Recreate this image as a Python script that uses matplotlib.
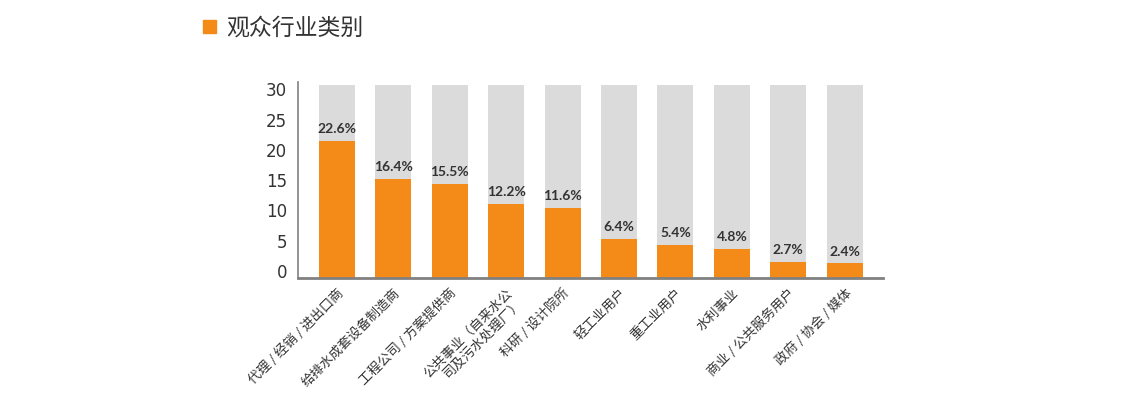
import matplotlib
matplotlib.use("Agg")
import matplotlib.pyplot as plt
import matplotlib.transforms as mtransforms
from matplotlib.patches import Rectangle

plt.rcParams['font.family'] = ['Noto Sans CJK SC', 'DejaVu Sans']

categories = [
    "代理 / 经销 / 进出口商",
    "给排水成套设备制造商",
    "工程公司 / 方案提供商",
    "公共事业（自来水公\n司及污水处理厂）",
    "科研 / 设计院所",
    "轻工业用户",
    "重工业用户",
    "水利事业",
    "商业 / 公共服务用户",
    "政府 / 协会 / 媒体",
]
values = [22.6, 16.4, 15.5, 12.2, 11.6, 6.4, 5.4, 4.8, 2.7, 2.4]
yticks = [0, 5, 10, 15, 20, 25, 30]
title = "观众行业类别"

ORANGE = "#F48A18"
GREY = "#DCDBDC"
TEXT = "#333333"
BG_MAX = 31.9

fig = plt.figure(figsize=(11.25, 3.99), dpi=100)
ax = fig.add_axes([0.2649, 0.3033, 0.52, 0.4919])

x = list(range(len(categories)))
ax.bar(x, [BG_MAX] * len(x), width=0.64, color=GREY, zorder=1)
bars = ax.bar(x, values, width=0.64, color=ORANGE, zorder=2)
for xi, v in zip(x, values):
    ax.annotate(f"{v}%", (xi, v), xytext=(0, 8.5), textcoords="offset points",
                ha="center", va="center", fontsize=10, fontweight="bold",
                color=TEXT, family=["Lato", "DejaVu Sans"])

ax.set_xlim(-0.69, 9.68)
ax.set_ylim(0.8, 32.4)
ax.set_yticks(yticks)
ax.set_yticklabels([str(t) for t in yticks], fontsize=12, color=TEXT,
                   family=["DejaVu Sans"])
ax.tick_params(axis="y", length=0, pad=8)
offset = mtransforms.ScaledTranslation(0, 7 / 100, fig.dpi_scale_trans)
for lab in ax.get_yticklabels():
    lab.set_transform(lab.get_transform() + offset)

ax.set_xticks(x)
ax.set_xticklabels(categories, rotation=45, ha="right", va="top",
                   rotation_mode="anchor", fontsize=9.5, color=TEXT)
ax.tick_params(axis="x", length=0, pad=6)

for s in ["top", "right"]:
    ax.spines[s].set_visible(False)
ax.spines["left"].set_color("#808080")
ax.spines["left"].set_linewidth(1.2)
ax.spines["bottom"].set_color("#808080")
ax.spines["bottom"].set_linewidth(2)
ax.spines["bottom"].set_zorder(3)

fig.patches.append(Rectangle((203 / 1125, 1 - 33 / 399), 13 / 1125, 13 / 399,
                             transform=fig.transFigure, color=ORANGE))
fig.text(226 / 1125, 1 - 28 / 399, title, fontsize=16.5, color=TEXT,
         ha="left", va="center")

fig.savefig("out.png", dpi=100)
